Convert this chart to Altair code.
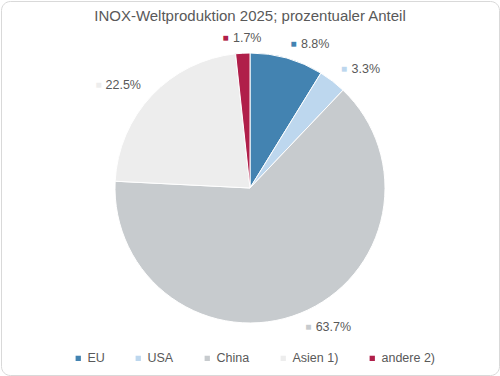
import altair as alt
import pandas as pd

title_text = "INOX-Weltproduktion 2025; prozentualer Anteil"
categories = ["EU", "USA", "China", "Asien 1)", "andere 2)"]
shares = [8.8, 3.3, 63.7, 22.5, 1.7]
labels = ["8.8%", "3.3%", "63.7%", "22.5%", "1.7%"]
colors = ["#4383B1", "#BDD7EE", "#C7CBCE", "#EDEDED", "#B01F4A"]

df = pd.DataFrame({
    "cat": categories,
    "value": shares,
    "label": labels,
    "order": list(range(len(categories))),
})

W, H = 498, 374
theta_scale = alt.Scale(domain=[0, 100])
color_scale = alt.Scale(domain=categories, range=colors)

base = alt.Chart(df)

arcs = base.mark_arc(radius=135, stroke="white", strokeWidth=1).encode(
    theta=alt.Theta("value:Q", stack=True, scale=theta_scale),
    color=alt.Color(
        "cat:N",
        scale=color_scale,
        sort=categories,
        legend=alt.Legend(
            title=None,
            orient="none",
            direction="horizontal",
            legendX=71,
            legendY=351,
            symbolType="square",
            symbolSize=28,
            symbolStrokeWidth=0,
            labelFontSize=12.5,
            labelColor="#595959",
            labelFont="Liberation Sans",
            columnPadding=27,
            labelOffset=3,
            padding=0,
        ),
    ),
    order=alt.Order("order:Q"),
)

lab = base.transform_window(
    cum="sum(value)", sort=[alt.SortField("order")], frame=[None, 0]
).transform_calculate(
    mid="datum.cum - datum.value / 2",
    w="length(datum.label) * 7",
)

# side: right (mid<50) -> group left-aligned; left (50..97) -> right-aligned; top -> centered
text_align = alt.ExprRef(expr="datum.mid < 50 ? 'left' : (datum.mid < 97 ? 'right' : 'left')")
text_dx = alt.ExprRef(expr="datum.mid < 50 ? 10 : (datum.mid < 97 ? 0 : 5 - datum.w / 2)")
mark_dx = alt.ExprRef(expr="datum.mid < 50 ? 2.5 : (datum.mid < 97 ? -(datum.w + 7.5) : -(10 + datum.w) / 2 + 2.5)")

label_text = lab.mark_text(
    radius=150, align=text_align, dx=text_dx, baseline="middle",
    fontSize=12.5, font="Liberation Sans", color="#595959",
).encode(
    theta=alt.Theta("mid:Q", scale=theta_scale),
    text="label:N",
)

label_marker = lab.mark_text(
    radius=150, align="center", dx=mark_dx, baseline="middle",
    fontSize=10, font="Liberation Sans",
).encode(
    theta=alt.Theta("mid:Q", scale=theta_scale),
    text=alt.value("■"),
    color=alt.Color("cat:N", scale=color_scale, legend=None),
)

title = alt.Chart(pd.DataFrame({"t": [title_text]})).mark_text(
    fontSize=15, font="Liberation Sans", color="#595959", align="center", baseline="alphabetic"
).encode(
    x=alt.value(W / 2),
    y=alt.value(19.5),
    text="t:N",
)

chart = alt.layer(arcs, label_marker, label_text, title).properties(
    width=W, height=H,
    autosize=alt.AutoSizeParams(type="none"),
    padding=1,
    background="white",
).configure_view(
    stroke="#D9D9D9", strokeWidth=1, cornerRadius=9, fill="white"
)

chart.save("out.html", embed_options={"renderer": "svg", "actions": False})
